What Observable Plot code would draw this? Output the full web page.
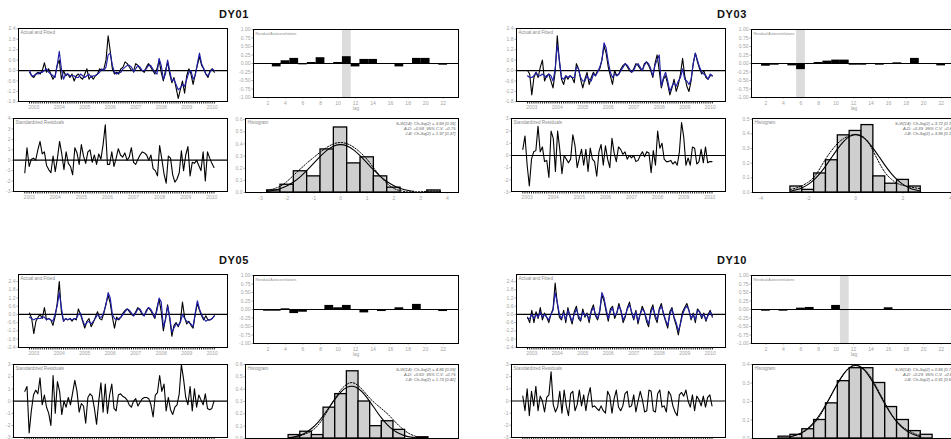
<!DOCTYPE html>
<html><head><meta charset="utf-8">
<script src="https://cdn.jsdelivr.net/npm/d3@7"></script>
<script src="https://cdn.jsdelivr.net/npm/@observablehq/plot@0.6"></script>
<style>
body{margin:0;background:#fff;}
#fig{position:relative;width:951px;height:439px;overflow:hidden;background:#fff;font-family:"Liberation Sans",Arial,sans-serif;}
.ttl{position:absolute;font-weight:bold;font-size:11px;line-height:11px;letter-spacing:0.6px;transform:translateX(-50%);color:#111;}
#fig g[aria-label$="tick label"]{fill:#a4a4a4;}
#fig g[aria-label$="axis label"]{fill:#a4a4a4;}
</style></head><body><div id="fig"></div>
<script>
// ---------------- data ----------------
const startYear = 2002, startMonth = 11;
const yearTicks = [2003, 2004, 2005, 2006, 2007, 2008, 2009, 2010];

// DY01
const actual01 = [-0.1,-0.3,-0.4,-0.2,-0.1,-0.2,0.0,0.45,-0.1,0.1,-0.2,-0.5,
 -0.3,0.3,0.6,-0.5,0.0,-0.3,-0.2,-0.4,-0.2,-0.6,-0.3,-0.2,
 -0.4,-0.5,-0.2,0.1,-0.5,-0.3,-0.5,-0.3,-0.2,0.1,0.0,0.1,
 0.6,2.0,1.1,0.1,-0.2,-0.1,-0.2,0.1,0.2,0.5,0.4,0.2,
 0.0,0.0,0.4,0.3,0.1,0.0,-0.1,0.2,0.4,0.2,0.0,-0.2,
 0.1,0.6,-0.1,-0.6,0.0,0.5,-0.2,-0.7,-0.4,-1.0,-1.6,-1.1,
 -0.6,-1.3,-0.3,0.1,-0.2,-0.8,-0.2,0.3,0.8,0.3,0.1,-0.2,
 -0.4,0.0,0.1,-0.1];
const fitted01 = [0.0,-0.3,-0.3,-0.2,-0.2,-0.1,-0.1,0.0,0.1,-0.1,-0.2,-0.3,
 -0.4,0.3,1.1,0.1,-0.5,-0.2,-0.2,-0.3,-0.3,-0.3,-0.4,-0.4,
 -0.2,-0.3,-0.4,-0.3,-0.2,-0.4,-0.3,-0.3,-0.2,-0.1,0.1,0.0,
 0.2,0.9,1.0,0.3,-0.1,-0.2,-0.1,-0.1,0.1,0.2,0.3,0.3,
 0.2,-0.1,0.1,0.3,0.2,0.0,0.0,0.1,0.3,0.3,0.1,-0.1,
 -0.2,0.7,0.3,-0.5,-0.2,0.6,0.0,-0.6,-0.5,-0.8,-1.1,-1.0,
 -0.8,-0.9,-0.5,-0.1,0.0,-0.5,-0.3,0.4,1.0,0.4,0.1,-0.2,
 -0.3,-0.1,0.1,0.0];
const resid01 = [-1.2,1.2,-0.6,0.1,0.2,0.0,1.0,1.8,0.6,0.8,-0.5,-0.9,
 -1.2,0.4,-1.1,0.2,1.8,0.6,-0.9,0.8,-0.3,-0.6,-1.4,1.2,
 0.7,-0.4,1.5,0.4,-0.3,0.8,1.0,-0.2,0.5,-0.4,0.6,0.1,
 1.5,3.4,-0.4,-0.4,0.8,-0.6,0.2,1.1,0.5,0.3,0.7,0.0,
 0.3,1.2,-0.2,-0.4,0.1,0.5,0.8,0.7,0.5,0.0,0.5,-0.8,
 -1.0,-1.5,1.4,0.1,-1.3,-2.2,0.4,0.2,-1.4,-2.1,-1.8,-1.2,
 0.9,-1.0,0.5,1.3,-1.5,-0.2,-0.3,0.0,-0.5,-1.0,0.8,-2.0,
 0.8,0.2,-0.3,-0.7];
const acfLags = [2,3,4,5,6,7,8,9,10,11,12,13,14,15,16,17,18,19,20,21,22,23];
const acf01 = [0.0,-0.10,0.08,0.15,-0.04,0.03,0.17,0.0,0.03,0.20,-0.10,0.12,0.12,0.0,-0.02,-0.10,0.0,0.15,0.15,-0.03,-0.05,0.0];
const band01 = 11;
const histCenters01 = [-2.5,-2,-1.5,-1,-0.5,0,0.5,1,1.5,2,2.5,3,3.5];
const histDensity01 = [0.017,0.064,0.175,0.133,0.355,0.536,0.24,0.29,0.133,0.04,0,0,0.017];
const kernelX01 = [-2.75,-2.5,-2.25,-2,-1.75,-1.5,-1.25,-1,-0.75,-0.5,-0.25,0,0.25,0.5,0.75,1,1.25,1.5,1.75,2,2.25,2.5,2.75,3,3.25,3.5,3.75];
const kernelY01 = [0.017,0.03,0.05,0.09,0.145,0.195,0.245,0.29,0.335,0.375,0.405,0.415,0.405,0.375,0.33,0.275,0.2,0.13,0.07,0.03,0.012,0.006,0.005,0.006,0.01,0.014,0.008];
const stats01 = ["S-W(14): Ch-Sq(2) = 3.68 [0.16]", "A-D: +0.58  95% C.V. +0.75", "J-B: Ch-Sq(2) = 1.97 [0.37]"];

// DY03
const actual03 = [0.0,-0.2,-1.4,-0.4,-0.1,-0.4,0.2,0.6,-0.6,-0.3,-0.2,-0.6,
 -1.0,-0.1,2.0,0.5,-0.5,-0.8,-0.3,-0.5,-0.3,-0.4,-0.7,0.4,
 0.1,-0.5,-1.0,-0.5,-0.1,-0.8,-0.4,-0.1,-0.3,0.0,0.1,0.6,
 1.4,1.0,0.2,-0.3,-0.8,0.0,-0.3,-0.2,0.1,0.3,0.4,0.2,
 0.0,-0.1,0.1,0.4,0.3,0.1,0.0,0.4,0.5,0.3,0.0,-0.4,
 0.4,0.9,0.0,-1.0,-0.5,-0.3,-0.8,-1.4,-1.0,-0.5,-1.2,-0.8,
 -0.2,0.7,-0.3,-0.9,-1.2,-0.6,0.4,1.0,0.5,0.1,-0.2,0.0,
 -0.4,-0.5,-0.3,-0.3];
const fitted03 = [-0.3,-0.4,-0.4,-0.3,-0.1,-0.3,-0.3,-0.2,-0.3,-0.4,-0.2,-0.3,
 -0.6,0.1,1.5,0.6,-0.4,-0.5,-0.3,-0.4,-0.3,-0.4,-0.4,0.2,
 0.1,-0.4,-0.6,-0.6,-0.3,-0.5,-0.6,-0.2,-0.3,-0.1,0.2,0.6,
 1.6,1.3,0.5,-0.1,-0.4,-0.2,-0.3,-0.2,0.0,0.2,0.4,0.3,
 0.1,-0.1,0.0,0.3,0.4,0.2,0.0,0.3,0.5,0.4,0.1,-0.3,
 0.3,0.6,0.9,-0.9,-0.4,-0.1,-0.6,-1.2,-0.9,-0.7,-0.9,-0.6,
 -0.4,0.1,-0.5,-0.6,-0.8,-0.5,0.4,1.0,0.6,0.2,-0.1,-0.2,
 -0.3,-0.5,-0.2,-0.3];
const resid03 = [0.5,1.6,-0.8,-2.5,-0.3,0.3,0.4,2.4,0.3,0.7,-0.5,-0.4,
 -1.8,2.0,1.4,-1.3,2.0,0.5,-1.5,0.0,-0.3,-0.6,-0.3,1.7,
 0.8,-1.0,-0.2,0.5,-0.8,0.5,-1.3,0.6,-0.3,-0.5,-1.7,0.3,
 0.9,-0.8,0.8,-0.3,-1.0,1.4,0.2,-0.5,0.7,0.5,0.1,0.3,
 -0.3,0.0,-0.2,0.0,-0.5,-0.4,0.0,0.3,-0.1,0.3,0.2,-1.4,
 0.4,-0.8,2.0,0.6,1.0,-0.3,-0.5,-0.5,-0.4,-0.7,-0.5,-0.8,
 0.3,2.7,1.5,-0.8,-0.2,-0.8,0.7,0.6,-0.7,-0.5,0.5,-0.6,
 0.7,-0.6,-0.5,-0.5];
const acf03 = [-0.08,-0.05,0.0,-0.07,-0.18,0.0,0.03,0.07,0.10,0.10,-0.05,-0.05,0.0,-0.05,0.0,0.02,0.0,0.15,0.0,-0.03,-0.07,0.0];
const band03 = 6;
const histCenters03 = [-2.5,-2,-1.5,-1,-0.5,0,0.5,1,1.5,2,2.5];
const histDensity03 = [0.041,0.018,0.13,0.22,0.39,0.42,0.46,0.11,0.06,0.086,0.041];
const curveX = [-2.75,-2.5,-2.25,-2,-1.75,-1.5,-1.25,-1,-0.75,-0.5,-0.25,0,0.25,0.5,0.75,1,1.25,1.5,1.75,2,2.25,2.5,2.75];
const normalY = [0.0091,0.0175,0.0317,0.054,0.0863,0.1295,0.1826,0.242,0.3011,0.3521,0.3867,0.3989,0.3867,0.3521,0.3011,0.242,0.1826,0.1295,0.0863,0.054,0.0317,0.0175,0.0091];
const kernelY03 = [0.02,0.03,0.045,0.07,0.1,0.165,0.235,0.29,0.34,0.37,0.39,0.40,0.39,0.36,0.28,0.2,0.13,0.09,0.06,0.048,0.04,0.032,0.025];
const stats03 = ["S-W(14): Ch-Sq(2) = 3.72 [0.16]", "A-D: +0.39  95% C.V. +0.69", "J-B: Ch-Sq(2) = 3.86 [0.15]"];

// DY05
const actual05 = [0.1,-0.3,-1.4,-0.5,-0.2,0.0,-0.3,0.5,-0.4,-0.3,-0.4,-0.8,
 -0.2,0.8,2.4,0.2,-0.5,-0.3,-0.4,-0.3,-0.5,-0.3,-0.4,0.4,
 0.0,-0.5,-1.0,-0.5,-0.3,-0.9,-0.6,-0.2,0.2,-0.3,-0.4,0.1,
 0.8,1.4,0.8,-0.2,-1.0,-0.2,-0.4,-0.2,0.1,0.3,0.4,0.2,
 0.0,-0.1,0.2,0.5,0.3,0.0,-0.1,0.3,0.5,0.3,0.0,-0.3,
 0.5,1.1,0.2,-1.2,-0.3,0.7,-0.3,-1.6,-0.8,-0.6,-0.9,-0.5,
 0.9,-0.2,-0.7,-0.5,-0.8,-1.0,0.0,0.8,0.3,-0.1,-0.4,-0.1,
 -0.4,-0.4,-0.3,-0.1];
const fitted05 = [-0.2,-0.3,-0.4,-0.3,-0.3,-0.3,-0.2,-0.2,-0.4,-0.3,-0.4,-0.5,
 0.0,0.6,1.6,0.5,-0.5,-0.3,-0.4,-0.3,-0.4,-0.3,-0.3,0.0,
 0.1,-0.4,-0.8,-0.6,-0.5,-0.7,-0.5,-0.3,0.0,-0.2,-0.2,0.2,
 0.7,1.6,1.2,0.0,-0.3,-0.4,-0.3,-0.2,0.0,0.2,0.4,0.3,
 0.1,-0.1,0.1,0.4,0.4,0.1,-0.1,0.2,0.5,0.4,0.1,-0.2,
 0.3,1.2,0.9,-0.9,-0.4,0.6,-0.2,-1.3,-1.0,-0.7,-0.8,-0.6,
 0.0,-0.3,-0.5,-0.6,-0.7,-0.9,0.1,1.0,0.4,0.0,-0.3,-0.5,
 -0.4,-0.4,-0.3,-0.1];
const resid05 = [0.8,1.2,-2.6,-0.8,0.5,0.9,0.6,1.9,-0.3,0.5,-0.5,-1.0,
 -2.0,2.1,-1.0,1.6,0.8,-1.1,0.0,-0.5,0.3,-0.3,0.7,1.7,
 0.8,-0.9,-0.2,-0.4,-1.8,0.3,0.6,0.4,-0.6,-1.9,0.0,1.5,
 -0.9,1.4,-1.0,0.5,1.4,-0.6,-0.8,0.5,0.6,0.4,0.3,0.1,
 -0.3,-0.5,0.0,0.2,-0.4,-0.1,0.2,0.3,0.3,0.2,-0.3,-1.3,
 0.5,0.7,2.1,0.8,1.4,-0.8,0.3,-0.7,-1.1,-0.5,-0.3,0.6,
 3.0,1.8,0.3,-0.3,1.2,-0.8,1.0,-0.5,0.5,0.1,-0.3,0.6,
 -0.6,-0.7,-0.6,0.0];
const acf05 = [-0.05,-0.05,0.02,-0.12,-0.08,0,0,0.12,0.05,0.12,0,-0.10,0,-0.06,0,0.05,0,0.15,0,0,-0.06,0];
const band05 = null;
const histCenters05 = [-2.5,-2,-1.5,-1,-0.5,0,0.5,1,1.5,2,2.5,3];
const histDensity05 = [0.028,0.055,0.028,0.25,0.36,0.545,0.30,0.10,0.14,0.07,0,0.01];
const normalY05 = [0.0064,0.0133,0.026,0.047,0.081,0.127,0.187,0.255,0.323,0.382,0.419,0.429,0.407,0.36,0.296,0.227,0.161,0.107,0.066,0.038,0.020,0.010,0.005];
const kernelY05 = [0.005,0.012,0.022,0.038,0.06,0.1,0.17,0.25,0.33,0.4,0.445,0.46,0.43,0.38,0.32,0.28,0.24,0.2,0.15,0.1,0.06,0.03,0.015];
const stats05 = ["S-W(14): Ch-Sq(2) = 4.86 [0.09]", "A-D: +0.60  95% C.V. +0.75", "J-B: Ch-Sq(2) = 1.73 [0.42]"];

// DY10
const actual10 = [-0.2,-0.6,0.3,-0.6,0.2,-0.3,0.5,-0.4,0.1,-0.2,-0.6,0.0,
 0.4,2.3,0.8,-0.2,-0.4,0.3,-0.6,0.5,-0.2,-0.7,0.2,0.6,
 -0.3,-0.5,0.4,-0.2,0.1,-0.6,0.3,0.7,-0.1,-0.4,0.2,1.4,
 1.0,0.2,-0.5,0.4,0.6,-0.3,0.1,0.8,0.2,-0.6,-0.2,0.5,
 0.9,0.1,-0.4,0.3,-0.7,0.0,0.6,0.2,-0.5,-0.9,0.3,0.7,
 -0.2,-0.6,0.4,0.8,0.0,-0.5,-1.0,0.2,0.5,-0.3,-0.8,-1.5,
 -0.6,0.2,0.5,0.8,0.3,-0.4,0.1,-0.6,0.4,0.2,-0.3,0.1,
 -0.5,0.0,0.3,-0.2];
const fitted10 = [-0.3,-0.3,0.0,-0.3,0.0,-0.2,0.2,-0.2,0.0,-0.2,-0.4,0.0,
 0.3,1.6,0.9,0.0,-0.3,0.1,-0.4,0.3,-0.1,-0.5,0.0,0.4,
 -0.1,-0.4,0.2,-0.1,0.0,-0.4,0.2,0.5,0.0,-0.3,0.3,1.6,
 1.2,0.4,-0.3,0.2,0.5,-0.1,0.1,0.6,0.3,-0.4,-0.1,0.4,
 0.7,0.2,-0.3,0.2,-0.5,0.0,0.4,0.2,-0.3,-0.7,0.1,0.5,
 0.0,-0.4,0.3,0.6,0.1,-0.4,-0.8,0.0,0.4,-0.2,-0.6,-1.2,
 -0.7,0.0,0.4,0.6,0.3,-0.3,0.0,-0.4,0.3,0.2,-0.2,0.0,
 -0.4,-0.1,0.2,-0.1];
const resid10 = [0.4,-0.8,1.0,-1.2,0.8,-0.4,1.2,-0.8,0.4,0.0,-0.9,0.3,
 0.5,2.4,-0.3,-0.9,-0.5,0.8,-1.0,0.9,-0.4,-1.2,0.6,0.8,
 -0.8,-0.3,0.9,-0.4,0.5,-0.8,0.4,1.1,-0.5,-0.4,-0.6,-0.8,
 -0.4,-0.8,-1.0,0.8,0.4,-1.0,0.2,0.9,-0.5,-0.8,-0.4,0.6,
 0.8,-0.5,-0.4,0.5,-0.9,0.0,0.8,0.1,-0.9,-0.8,0.9,0.8,
 -0.8,-0.9,0.6,0.9,-0.5,-0.4,-0.9,0.8,0.5,-0.4,-0.9,-1.2,
 0.5,0.7,0.4,0.9,0.0,-0.5,0.5,-0.8,0.4,0.1,-0.4,0.4,
 -0.5,0.3,0.5,-0.4];
const acf10 = [-0.05,0,-0.05,0.0,0.04,0.06,0.0,0.0,0.12,-0.03,0.0,-0.03,0.0,0.0,0.05,-0.03,0,0,0,0,0,0];
const band10 = 11;
const histCenters10 = [-3,-2.5,-2,-1.5,-1,-0.5,0,0.5,1,1.5,2,2.5,3];
const histDensity10 = [0.01,0.02,0.05,0.1,0.19,0.31,0.38,0.38,0.3,0.17,0.1,0.04,0.02];
const kernelY10 = [0.01,0.02,0.03,0.05,0.08,0.12,0.18,0.24,0.30,0.35,0.39,0.40,0.39,0.36,0.31,0.25,0.19,0.13,0.09,0.06,0.04,0.025,0.015];
const stats10 = ["S-W(14): Ch-Sq(2) = 0.66 [0.72]", "A-D: +0.29  95% C.V. +0.69", "J-B: Ch-Sq(2) = 0.91 [0.63]"];

const binWidth = 0.5;
const tsTicks16 = [-1.8,-1.2,-0.6,0,0.6,1.2,1.8,2.4];
const tsTicks24 = [-2.4,-1.8,-1.2,-0.6,0,0.6,1.2,1.8,2.4];
const acfTicks = [-1,-0.75,-0.5,-0.25,0,0.25,0.5,0.75,1];
const acfXTicks = [2,4,6,8,10,12,14,16,18,20,22];

const panels = [
  {name:"DY01", dx:0, dy:0, A:actual01, F:fitted01, R:resid01, tsDom:[-1.78,2.42], tsTicks:tsTicks16, resDom:[-3,4], resTicks:[-3,-2,-1,0,1,2,3,4],
   acf:acf01, band:band01, hc:histCenters01, hd:histDensity01, hDom:[-3.56,4.42], hTicks:[-3,-2,-1,0,1,2,3,4], hY:[0,0.61], hL:245, hW:213,
   nX:curveX, nY:normalY, kX:kernelX01, kY:kernelY01, stats:stats01},
  {name:"DY03", dx:498, dy:0, A:actual03, F:fitted03, R:resid03, tsDom:[-1.78,2.42], tsTicks:tsTicks16, resDom:[-2.95,3.03], resTicks:[-3,-2,-1,0,1,2,3],
   acf:acf03, band:band03, hc:histCenters03, hd:histDensity03, hDom:[-4.35,4.3], hTicks:[-4,-2,0,2,4], hY:[0,0.505], hL:254, hW:205,
   nX:curveX, nY:normalY, kX:curveX, kY:kernelY03, stats:stats03},
  {name:"DY05", dx:0, dy:246, A:actual05, F:fitted05, R:resid05, tsDom:[-2.42,2.92], tsTicks:tsTicks24, resDom:[-2.98,3.0], resTicks:[-3,-2,-1,0,1,2,3],
   acf:acf05, band:band05, hc:histCenters05, hd:histDensity05, hDom:[-4.6,4.54], hTicks:[-4,-2,0,2,4], hY:[0,0.6], hL:245, hW:213,
   nX:curveX, nY:normalY05, kX:curveX, kY:kernelY05, stats:stats05},
  {name:"DY10", dx:498, dy:246, A:actual10, F:fitted10, R:resid10, tsDom:[-2.42,2.92], tsTicks:tsTicks24, resDom:[-3,3], resTicks:[-3,-2,-1,0,1,2,3],
   acf:acf10, band:band10, hc:histCenters10, hd:histDensity10, hDom:[-4.35,4.3], hTicks:[-4,-2,0,2,4], hY:[0,0.40], hL:254, hW:205,
   nX:curveX, nY:normalY, kX:curveX, kY:kernelY10, stats:stats10}
];

// ---------------- drawing ----------------
const fig = document.getElementById("fig");
const tOf = i => startYear + (startMonth - 1 + i) / 12;
const timeDom = [2002.4, 2010.6];
const baseStyle = {fontSize:"5px", fontFamily:"Liberation Sans, Arial, sans-serif", background:"transparent", overflow:"visible", color:"#000"};

function place(L, T, w, h, m, opts) {
  const svg = Plot.plot({
    width: w + m.l + m.r, height: h + m.t + m.b,
    marginLeft: m.l, marginRight: m.r, marginTop: m.t, marginBottom: m.b,
    style: baseStyle, ...opts
  });
  svg.style.position = "absolute";
  svg.style.left = (L - m.l) + "px";
  svg.style.top = (T - m.t) + "px";
  fig.appendChild(svg);
}
function cornerLabel(s) {
  return Plot.text([s], {frameAnchor:"top-left", dx:2, dy:2, lineAnchor:"top", text:d=>d, fontSize:4.6, fill:"#8a8a8a"});
}

for (const p of panels) {
  const t = document.createElement("div");
  t.className = "ttl"; t.textContent = p.name;
  t.style.left = (234 + p.dx) + "px"; t.style.top = (9 + p.dy) + "px";
  fig.appendChild(t);

  // Actual and fitted
  const dA = p.A.map((v, i) => ({t: tOf(i), v}));
  const dF = p.F.map((v, i) => ({t: tOf(i), v}));
  const monthTicks = p.A.map((v, i) => tOf(i));
  place(18 + p.dx, 28 + p.dy, 209, 73, {l:16, r:2, t:2, b:12}, {
    x:{domain: timeDom, label: null}, y:{domain: p.tsDom, label: null},
    marks:[
      Plot.axisX({ticks: monthTicks, tickSize: 2.5, tickFormat: () => "", strokeWidth: 0.9, label: null}),
      Plot.axisX({ticks: yearTicks, tickSize: 0, tickPadding: 3.5, tickFormat: d => String(d), label: null}),
      Plot.axisY({ticks: p.tsTicks, tickSize: 1.5, tickPadding: 1.5, tickFormat: d => d.toFixed(1), stroke:"#aaa", label: null}),
      Plot.ruleY([0], {stroke:"#000", strokeWidth: 1.3}),
      Plot.line(dA, {x:"t", y:"v", stroke:"#000", strokeWidth: 1.1}),
      Plot.line(dF, {x:"t", y:"v", stroke:"#1f1fa8", strokeWidth: 1.15}),
      Plot.frame({stroke:"#000", strokeWidth: 1}),
      cornerLabel("Actual and Fitted")
    ]
  });

  // Residual autocorrelations
  const dAcf = p.acf.map((v, i) => ({lag: acfLags[i], v}));
  const bandMarks = p.band == null ? [] : [Plot.rect([p.band], {x1: d => d - 0.5, x2: d => d + 0.5, y1: -1, y2: 1, fill:"#dcdcdc"})];
  place(253 + p.dx, 29 + p.dy, 205, 68, {l:16, r:2, t:2, b:14}, {
    x:{domain:[0.35, 23.75], label: null}, y:{domain:[-1, 1], label: null},
    marks:[
      ...bandMarks,
      Plot.axisX({ticks: acfXTicks, tickSize: 1.5, tickPadding: 2, tickFormat: d => String(d), label:"lag", labelAnchor:"center", labelOffset: 12, labelArrow:"none", stroke:"#aaa"}),
      Plot.axisY({ticks: acfTicks, tickSize: 1.5, tickPadding: 1.5, tickFormat: d => d.toFixed(2), stroke:"#aaa", label: null}),
      Plot.rectY(dAcf.filter(d => d.v !== 0), {x1: d => d.lag - 0.5, x2: d => d.lag + 0.5, y1: 0, y2: "v", fill:"#000"}),
      Plot.ruleY([0], {stroke:"#000", strokeWidth: 1}),
      Plot.frame({stroke:"#000", strokeWidth: 1}),
      Plot.text(["Residual Autocorrelations"], {frameAnchor:"top-left", dx:2, dy:3, lineAnchor:"top", text:d=>d, fontSize:3.6, fill:"#8a8a8a"})
    ]
  });

  // Standardized residuals
  const dR = p.R.map((v, i) => ({t: tOf(i), v}));
  place(13 + p.dx, 118 + p.dy, 214, 73, {l:12, r:2, t:2, b:12}, {
    x:{domain: timeDom, label: null}, y:{domain: p.resDom, label: null},
    marks:[
      Plot.axisX({ticks: monthTicks, tickSize: 2.5, tickFormat: () => "", strokeWidth: 0.9, label: null}),
      Plot.axisX({ticks: yearTicks, tickSize: 0, tickPadding: 3.5, tickFormat: d => String(d), label: null}),
      Plot.axisY({ticks: p.resTicks, tickSize: 1.5, tickPadding: 1.5, tickFormat: d => String(d), stroke:"#aaa", label: null}),
      Plot.ruleY([0], {stroke:"#000", strokeWidth: 1.2}),
      Plot.line(dR, {x:"t", y:"v", stroke:"#000", strokeWidth: 1.1}),
      Plot.frame({stroke:"#000", strokeWidth: 1}),
      cornerLabel("Standardized Residuals")
    ]
  });

  // Histogram
  const dH = p.hc.map((c, i) => ({c, d: p.hd[i]}));
  const dN = p.nX.map((x, i) => ({x, y: p.nY[i]}));
  const dK = p.kX.map((x, i) => ({x, y: p.kY[i]}));
  place(p.hL + p.dx, 118 + p.dy, p.hW, 74, {l:14, r:2, t:2, b:10}, {
    x:{domain: p.hDom, label: null}, y:{domain: p.hY, label: null},
    marks:[
      Plot.axisX({ticks: p.hTicks, tickSize: 1.5, tickPadding: 2, tickFormat: d => String(d), stroke:"#aaa", label: null}),
      Plot.axisY({ticks: d3.range(0, p.hY[1] + 1e-9, 0.1), tickSize: 1.5, tickPadding: 1.5, tickFormat: d => d.toFixed(1), stroke:"#aaa", label: null}),
      Plot.rectY(dH.filter(d => d.d > 0), {x1: d => d.c - binWidth / 2, x2: d => d.c + binWidth / 2, y1: 0, y2: "d", fill:"#cfcfcf", stroke:"#000", strokeWidth: 1.3}),
      Plot.line(dN, {x:"x", y:"y", stroke:"#000", strokeWidth: 1.1, curve:"basis"}),
      Plot.line(dK, {x:"x", y:"y", stroke:"#000", strokeWidth: 1, strokeDasharray:"1.5,1.5", curve:"basis"}),
      Plot.frame({stroke:"#000", strokeWidth: 1}),
      cornerLabel("Histogram"),
      Plot.text([p.stats.join("\n")], {frameAnchor:"top-right", dx:-3, dy:3, lineAnchor:"top", textAnchor:"end", lineHeight:1.15, text:d=>d, fontSize:4.2, fontStyle:"italic", fill:"#666"})
    ]
  });
}
</script></body></html>
